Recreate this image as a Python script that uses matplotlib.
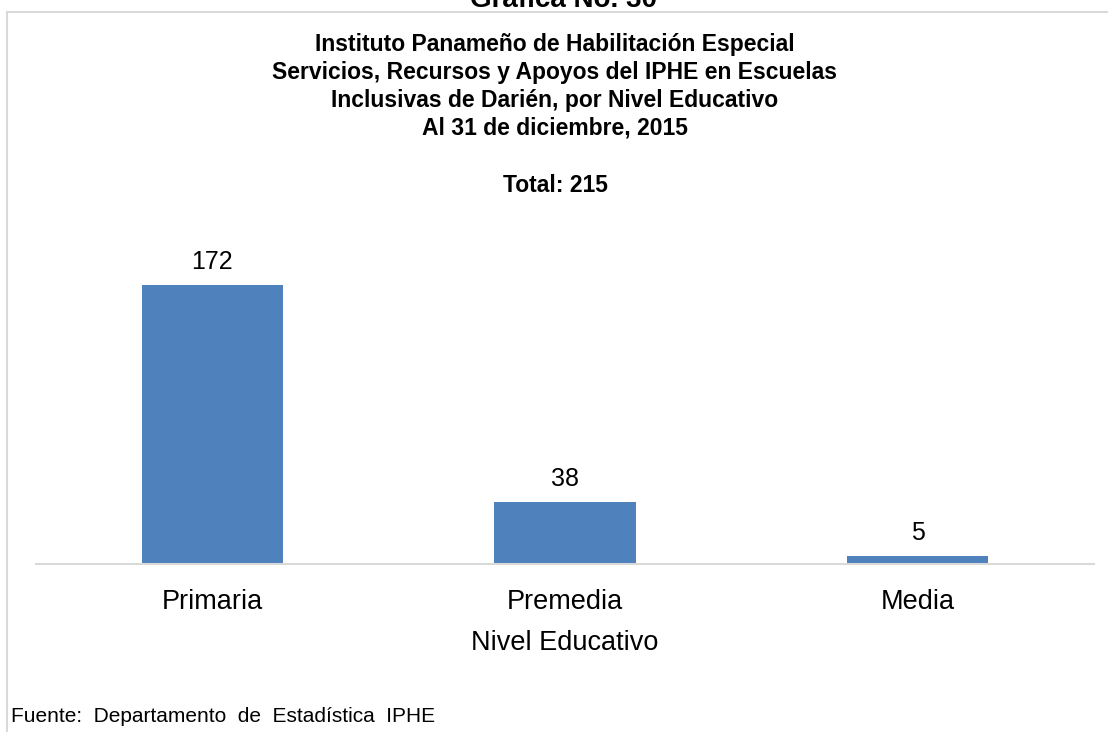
import matplotlib.pyplot as plt
from matplotlib.lines import Line2D

plt.rcParams['font.family'] = ['Liberation Sans', 'DejaVu Sans']

niveles = ['Primaria', 'Premedia', 'Media']
valores = [172, 38, 5]
total = 215
titulo = ['Instituto Panameño de Habilitación Especial',
          'Servicios, Recursos y Apoyos del IPHE en Escuelas',
          'Inclusivas de Darién, por Nivel Educativo',
          'Al 31 de diciembre, 2015']

W, H = 1108, 732
fig = plt.figure(figsize=(W / 100, H / 100), dpi=100)

def fy(py):
    return 1 - py / H

# marco gris
fig.add_artist(Line2D([7 / W, 1], [fy(12), fy(12)], color='#d9d9d9', lw=1.5))
fig.add_artist(Line2D([7 / W, 7 / W], [fy(12), 0], color='#d9d9d9', lw=1.5))

# título cortado arriba
fig.text(564 / W, fy(7), 'Gráfica No. 30', ha='center', va='baseline',
         fontsize=20, fontweight='bold')

for i, linea in enumerate(titulo):
    fig.text(555 / W, fy(45 + 27.7 * i), linea, ha='center', va='center',
             fontsize=16.5, fontweight='bold')
fig.text(555 / W, fy(186), f'Total: {total}', ha='center', va='center',
         fontsize=16.5, fontweight='bold')

ax = fig.add_axes([36 / W, fy(564), 1058 / W, 324.4 / H])
x = range(len(niveles))
bars = ax.bar(x, valores, width=0.4, color='#4f81bd')
ax.set_xlim(-0.5, 2.5)
ax.set_ylim(0, 200)
for s in ['top', 'right', 'left']:
    ax.spines[s].set_visible(False)
ax.spines['bottom'].set_color('#d9d9d9')
ax.spines['bottom'].set_linewidth(1.5)
ax.set_yticks([])
ax.set_xticks(list(x))
ax.set_xticklabels(niveles, fontsize=19.5)
ax.tick_params(axis='x', length=0, pad=18)
ax.set_xlabel('Nivel Educativo', fontsize=19.5, labelpad=10.5)
for b, v in zip(bars, valores):
    ax.annotate(str(v), (b.get_x() + b.get_width() / 2, v), xytext=(0, 8),
                textcoords='offset points', ha='center', va='bottom', fontsize=18)

fig.text(11 / W, fy(716), 'Fuente:  Departamento  de  Estadística  IPHE',
         ha='left', va='center', fontsize=15)

fig.savefig('out.png', dpi=100)
